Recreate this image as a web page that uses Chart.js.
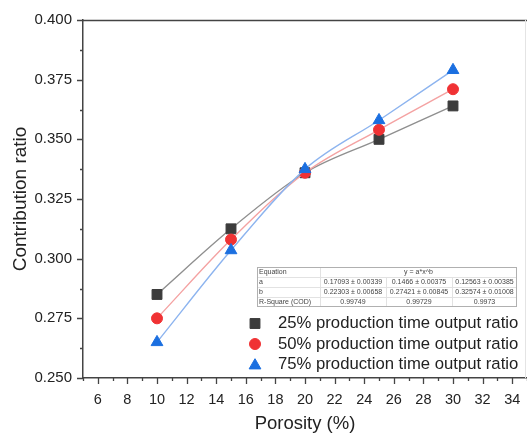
<!DOCTYPE html>
<html><head><meta charset="utf-8">
<script src="https://cdn.jsdelivr.net/npm/chart.js@4.4.1/dist/chart.umd.min.js"></script>
<style>html,body{margin:0;padding:0;background:#fff;}canvas{display:block;}</style>
</head><body>
<canvas id="c" width="527" height="434"></canvas>
<script>
// ---- data ----
const porosity = [10, 15, 20, 25, 30];
const ratio25 = [0.285, 0.3125, 0.336, 0.350, 0.364];
const ratio50 = [0.275, 0.308, 0.336, 0.354, 0.371];
const ratio75 = [0.265, 0.3035, 0.3375, 0.358, 0.379];
const seriesNames = ['25% production time output ratio', '50% production time output ratio', '75% production time output ratio'];
const xTickLabels = [6, 8, 10, 12, 14, 16, 18, 20, 22, 24, 26, 28, 30, 32, 34];
const yTickLabels = ['0.250', '0.275', '0.300', '0.325', '0.350', '0.375', '0.400'];
const fitHeader = ['Equation', 'y = a*x^b'];
const fitRowNames = ['a', 'b', 'R-Square (COD)'];
const fitA = ['0.17093 \u00b1 0.00339', '0.1466 \u00b1 0.00375', '0.12563 \u00b1 0.00385'];
const fitB = ['0.22303 \u00b1 0.00658', '0.27421 \u00b1 0.00845', '0.32574 \u00b1 0.01008'];
const fitR2 = ['0.99749', '0.99729', '0.9973'];
const xTitle = 'Porosity (%)';
const yTitle = 'Contribution ratio';

const FONT = "'Liberation Sans', Arial, sans-serif";
const styles = [
  {point: 'rect', color: '#3c3c3c', line: '#8f8f8f', r: 7},
  {point: 'circle', color: '#f03234', line: '#f4a2a2', r: 5.5},
  {point: 'triangle', color: '#1b6fe0', line: '#8db4ef', r: 6.8}
];
const seriesValues = [ratio25, ratio50, ratio75];

const datasets = seriesValues.map((vals, i) => ({
  label: seriesNames[i],
  data: porosity.map((x, j) => ({x: x, y: vals[j]})),
  showLine: true,
  cubicInterpolationMode: 'monotone',
  borderColor: styles[i].line,
  borderWidth: 1.4,
  pointStyle: styles[i].point,
  pointRadius: styles[i].r,
  pointHoverRadius: styles[i].r,
  pointBackgroundColor: styles[i].color,
  pointBorderColor: styles[i].color,
  pointBorderWidth: 1,
  order: 2 - i
}));

const decor = {
  id: 'decor',
  afterDraw(chart) {
    const ctx = chart.ctx;
    const xs = chart.scales.x, ys = chart.scales.y;
    const a = chart.chartArea;
    ctx.save();
    // frame top and faint right
    ctx.strokeStyle = '#444';
    ctx.lineWidth = 1.5;
    ctx.beginPath();
    ctx.moveTo(a.left, a.top + 0.5); ctx.lineTo(a.right, a.top + 0.5);
    ctx.stroke();
    ctx.strokeStyle = '#e4e4e4';
    ctx.lineWidth = 1;
    ctx.beginPath();
    ctx.moveTo(a.right - 1.5, a.top); ctx.lineTo(a.right - 1.5, a.bottom);
    ctx.stroke();
    // ticks
    ctx.strokeStyle = '#444';
    ctx.lineWidth = 1.3;
    ctx.beginPath();
    for (let v = 5; v <= 35; v++) {
      const px = Math.round(xs.getPixelForValue(v)) + 0.5;
      const len = (v % 2 === 0) ? 6 : 3;
      ctx.moveTo(px, a.bottom); ctx.lineTo(px, a.bottom + len);
    }
    for (let k = 0; k <= 12; k++) {
      const v = 0.25 + k * 0.0125;
      const py = Math.round(ys.getPixelForValue(v)) + 0.5;
      const len = (k % 2 === 0) ? 6 : 3;
      ctx.moveTo(a.left, py); ctx.lineTo(a.left - len, py);
    }
    ctx.stroke();
    // axis titles
    ctx.fillStyle = '#222';
    ctx.font = '18.5px ' + FONT;
    ctx.textAlign = 'center';
    ctx.textBaseline = 'middle';
    ctx.fillText(xTitle, (a.left + a.right) / 2, 424);
    ctx.font = '19px ' + FONT;
    ctx.save();
    ctx.translate(21, (a.top + a.bottom) / 2);
    ctx.rotate(-Math.PI / 2);
    ctx.fillText(yTitle, 0, 0);
    ctx.restore();

    // fit table
    const tx = 257, ty = 267, rowH = 10;
    const colX = [257, 320, 386, 452, 517];
    ctx.fillStyle = '#fff';
    ctx.fillRect(tx, ty, colX[4] - tx, rowH * 4);
    ctx.strokeStyle = '#e2e2e2';
    ctx.lineWidth = 1;
    ctx.beginPath();
    for (let r = 1; r < 4; r++) { ctx.moveTo(tx, ty + r * rowH + 0.5); ctx.lineTo(colX[4], ty + r * rowH + 0.5); }
    ctx.moveTo(colX[1] + 0.5, ty); ctx.lineTo(colX[1] + 0.5, ty + 4 * rowH);
    for (let c = 2; c < 4; c++) { ctx.moveTo(colX[c] + 0.5, ty + rowH); ctx.lineTo(colX[c] + 0.5, ty + 4 * rowH); }
    ctx.stroke();
    ctx.strokeStyle = '#b0b0b0';
    ctx.strokeRect(tx + 0.5, ty + 0.5, colX[4] - tx - 1, rowH * 4 - 1);
    ctx.fillStyle = '#444';
    ctx.font = '7px ' + FONT;
    ctx.textBaseline = 'middle';
    ctx.textAlign = 'left';
    ctx.fillText(fitHeader[0], tx + 2, ty + rowH * 0.5);
    fitRowNames.forEach((n, r) => ctx.fillText(n, tx + 2, ty + rowH * (r + 1.5)));
    ctx.textAlign = 'center';
    ctx.fillText(fitHeader[1], (colX[1] + colX[4]) / 2, ty + rowH * 0.5);
    [fitA, fitB, fitR2].forEach((row, r) => {
      row.forEach((txt, c) => ctx.fillText(txt, (colX[c + 1] + colX[c + 2]) / 2, ty + rowH * (r + 1.5)));
    });

    // legend
    const ly = [323.5, 344, 364.5];
    ctx.font = '16.7px ' + FONT;
    ctx.textAlign = 'left';
    ctx.textBaseline = 'middle';
    seriesNames.forEach((n, i) => {
      const st = styles[i];
      ctx.fillStyle = st.color; ctx.strokeStyle = st.color; ctx.lineWidth = 1;
      Chart.helpers.drawPoint(ctx, {pointStyle: st.point, radius: st.r, rotation: 0, borderWidth: 1}, 255, ly[i] + (st.point === 'triangle' ? 1 : 0));
      ctx.fillStyle = '#222';
      ctx.fillText(n, 278, ly[i]);
    });
    ctx.restore();
  }
};

new Chart(document.getElementById('c'), {
  type: 'scatter',
  data: {datasets: datasets},
  options: {
    responsive: false,
    animation: false,
    devicePixelRatio: 1,
    layout: {autoPadding: false, padding: {top: 20, right: 0, left: 0, bottom: 0}},
    plugins: {legend: {display: false}, tooltip: {enabled: false}},
    scales: {
      x: {
        type: 'linear', min: 5, max: 35,
        afterFit(s) { s.height = 56; s.paddingLeft = 0; s.paddingRight = 0; },
        grid: {display: false, drawTicks: false, tickLength: 0},
        border: {display: true, color: '#444', width: 1.5},
        ticks: {
          stepSize: 1, autoSkip: false, maxRotation: 0, padding: 13,
          color: '#222', font: {family: FONT, size: 14.5},
          callback: v => xTickLabels.includes(v) ? String(v) : ''
        }
      },
      y: {
        type: 'linear', min: 0.25, max: 0.4,
        afterFit(s) { s.width = 83; s.paddingTop = 0; s.paddingBottom = 0; },
        grid: {display: false, drawTicks: false, tickLength: 0},
        border: {display: true, color: '#444', width: 1.5},
        ticks: {
          stepSize: 0.025, autoSkip: false, padding: 11,
          color: '#222', font: {family: FONT, size: 15},
          callback: v => { const s = v.toFixed(3); return yTickLabels.includes(s) ? s : ''; }
        }
      }
    }
  },
  plugins: [decor]
});
</script>
</body></html>
